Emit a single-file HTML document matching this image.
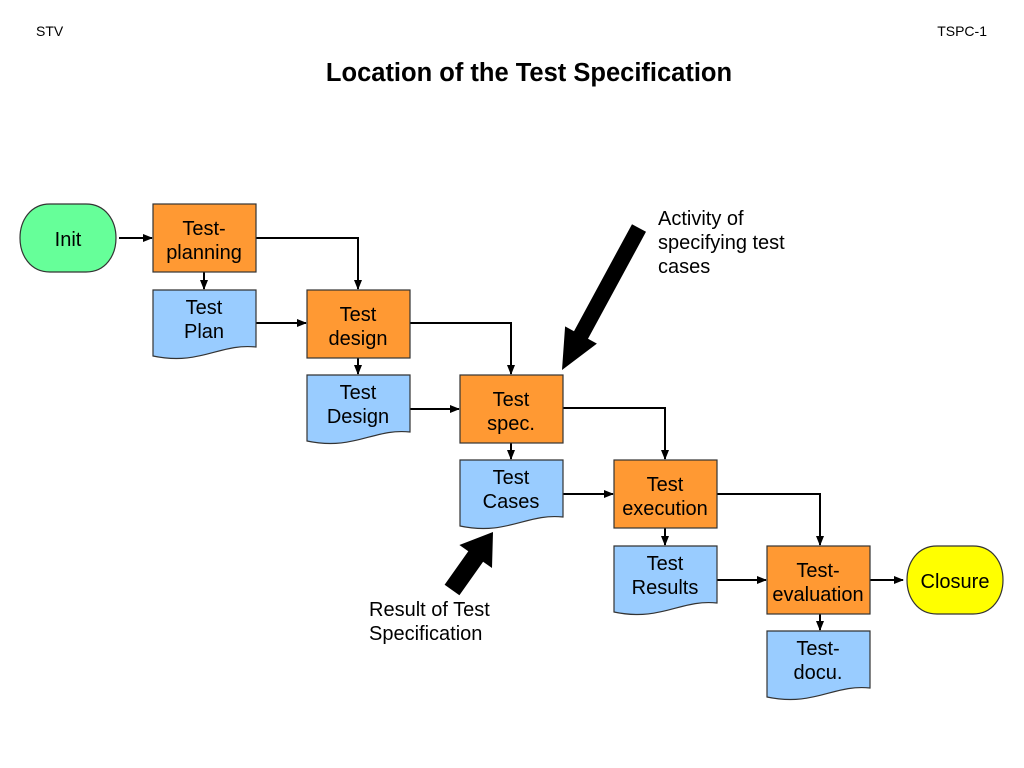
<!DOCTYPE html>
<html><head><meta charset="utf-8"><style>
html,body{margin:0;padding:0;background:#fff;width:1024px;height:768px;overflow:hidden}
text{font-family:"Liberation Sans",Arial,sans-serif}
</style></head><body>
<svg width="1024" height="768" viewBox="0 0 1024 768" xmlns="http://www.w3.org/2000/svg">
<defs><marker id="a" markerWidth="10" markerHeight="8" refX="9" refY="4" orient="auto" markerUnits="userSpaceOnUse"><path d="M0,0 L10,4 L0,8 z" fill="#000"/></marker></defs>
<text x="36" y="36" font-size="14">STV</text>
<text x="987" y="36" font-size="14" text-anchor="end">TSPC-1</text>
<text x="529" y="81" font-size="25.5" font-weight="bold" text-anchor="middle">Location of the Test Specification</text>
<g stroke="#000" stroke-width="2" fill="none" marker-end="url(#a)">
<path d="M119,238 H152"/>
<path d="M256,238 H358 V289"/>
<path d="M204,272 V289"/>
<path d="M256,323 H306"/>
<path d="M410,323 H511 V374"/>
<path d="M358,358 V374"/>
<path d="M410,409 H459"/>
<path d="M563,408 H665 V459"/>
<path d="M511,443 V459"/>
<path d="M563,494 H613"/>
<path d="M717,494 H820 V545"/>
<path d="M665,528 V545"/>
<path d="M717,580 H766"/>
<path d="M870,580 H903"/>
<path d="M820,614 V630"/>
</g>
<g stroke="#333" stroke-width="1.2">
<path d="M50,204 H86 C126,204 126,272 86,272 H50 C10,272 10,204 50,204 Z" fill="#66ff99"/>
<path d="M937,546 H973 C1013,546 1013,614 973,614 H937 C897,614 897,546 937,546 Z" fill="#ffff00"/>
<g fill="#ff9933">
<rect x="153" y="204" width="103" height="68"/>
<rect x="307" y="290" width="103" height="68"/>
<rect x="460" y="375" width="103" height="68"/>
<rect x="614" y="460" width="103" height="68"/>
<rect x="767" y="546" width="103" height="68"/>
</g>
<g fill="#99ccff">
<path d="M153,290 h103 v57 C220,343 200,366 153,356 Z"/>
<path d="M307,375 h103 v57 C374,428 354,451 307,441 Z"/>
<path d="M460,460 h103 v57 C527,513 507,536 460,526 Z"/>
<path d="M614,546 h103 v57 C681,599 661,622 614,612 Z"/>
<path d="M767,631 h103 v57 C834,684 814,707 767,697 Z"/>
</g>
</g>
<g font-size="20" text-anchor="middle" fill="#000">
<text x="68" y="246">Init</text>
<text x="955" y="588">Closure</text>
<text x="204" y="235">Test-</text><text x="204" y="259">planning</text>
<text x="358" y="321">Test</text><text x="358" y="345">design</text>
<text x="511" y="406">Test</text><text x="511" y="430">spec.</text>
<text x="665" y="491">Test</text><text x="665" y="515">execution</text>
<text x="818" y="577">Test-</text><text x="818" y="601">evaluation</text>
<text x="204" y="314">Test</text><text x="204" y="338">Plan</text>
<text x="358" y="399">Test</text><text x="358" y="423">Design</text>
<text x="511" y="484">Test</text><text x="511" y="508">Cases</text>
<text x="665" y="570">Test</text><text x="665" y="594">Results</text>
<text x="818" y="655">Test-</text><text x="818" y="679">docu.</text>
</g>
<g font-size="20" fill="#000">
<text x="658" y="225">Activity of</text>
<text x="658" y="249">specifying test</text>
<text x="658" y="273">cases</text>
<text x="369" y="616">Result of Test</text>
<text x="369" y="640">Specification</text>
</g>
<path d="M646,231.8 L588,338.8 L596.9,343.6 L562,370 L565.1,326.4 L574,331.2 L632,224.2 Z" fill="#000"/>
<path d="M459.4,595.2 L483.1,561.7 L492,568 L493,532 L459.4,545 L468.3,551.3 L444.6,584.8 Z" fill="#000"/>
</svg>
</body></html>
